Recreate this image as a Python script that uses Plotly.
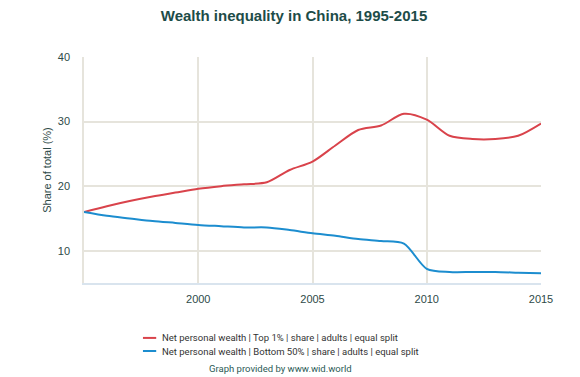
import plotly.graph_objects as go

years = list(range(1995, 2016))
top1 = [16.0, 16.9, 17.7, 18.4, 19.0, 19.6, 20.0, 20.3, 20.6, 22.5, 23.8, 26.3,
        28.7, 29.4, 31.2, 30.3, 27.8, 27.3, 27.3, 27.8, 29.7]
bottom50 = [16.0, 15.4, 15.0, 14.6, 14.3, 14.0, 13.8, 13.6, 13.6, 13.2, 12.7, 12.3,
            11.8, 11.5, 11.1, 7.2, 6.7, 6.7, 6.7, 6.6, 6.5]
names = ["Net personal wealth | Top 1% | share | adults | equal split",
         "Net personal wealth | Bottom 50% | share | adults | equal split"]
colors = ["#d9434b", "#1c8dcf"]
x_ticks = [2000, 2005, 2010, 2015]
y_ticks = [10, 20, 30, 40]

fig = go.Figure()
for ys, nm, col in zip([top1, bottom50], names, colors):
    fig.add_trace(go.Scatter(x=years, y=ys, name=nm, mode="lines", showlegend=False,
                             line=dict(color=col, width=2, shape="spline", smoothing=0.8)))

axis_font = dict(family="Liberation Sans, Arial, sans-serif", size=11, color="#2e4a48")
# page body has an 8px default margin, so the figure is sized to fit the 580x377 window
fig.update_layout(
    width=572, height=369,
    margin=dict(l=76, r=39, t=49, b=94, autoexpand=False),
    paper_bgcolor="white", plot_bgcolor="white",
    title=dict(text="<b>Wealth inequality in China, 1995-2015</b>", x=0.5, xanchor="center",
               y=0.978, yanchor="middle",
               font=dict(family="Liberation Sans, Arial, sans-serif", size=15, color="#1d4c48")),
    xaxis=dict(range=[1995, 2015], tickvals=x_ticks, showgrid=True, gridcolor="#e6e4dc",
               gridwidth=1.5, showline=True, linecolor="#d9e4ee", linewidth=2,
               zeroline=False, tickfont=axis_font, ticks="outside", ticklen=5,
               tickcolor="rgba(0,0,0,0)", automargin=False),
    yaxis=dict(range=[5, 40], tickvals=y_ticks, showgrid=True, gridcolor="#e6e4dc",
               gridwidth=1.5, showline=True, linecolor="#e6e4dc", linewidth=1.5,
               zeroline=False, tickfont=axis_font, automargin=False,
               ticks="outside", ticklen=10, tickcolor="rgba(0,0,0,0)",
               title=dict(text="Share of total (%)", font=axis_font, standoff=4)),
    showlegend=False,
)

# legend drawn as paper-space samples + text
leg_y = [-0.243, -0.301]
for ly, nm, col in zip(leg_y, names, colors):
    fig.add_shape(type="line", xref="paper", yref="paper", x0=0.129, x1=0.158, y0=ly, y1=ly,
                  line=dict(color=col, width=2))
    fig.add_annotation(text=nm, xref="paper", yref="paper", x=0.166, y=ly, showarrow=False,
                       xanchor="left", yanchor="middle",
                       font=dict(family="Roboto, sans-serif", size=9.5, color="#333333"))

fig.add_annotation(text="Graph provided by www.wid.world", xref="paper", yref="paper",
                   x=0.429, y=-0.378, showarrow=False, xanchor="center", yanchor="middle",
                   font=dict(family="Roboto, sans-serif", size=9.5, color="#2b5a55"))

fig.write_html("out.html")
